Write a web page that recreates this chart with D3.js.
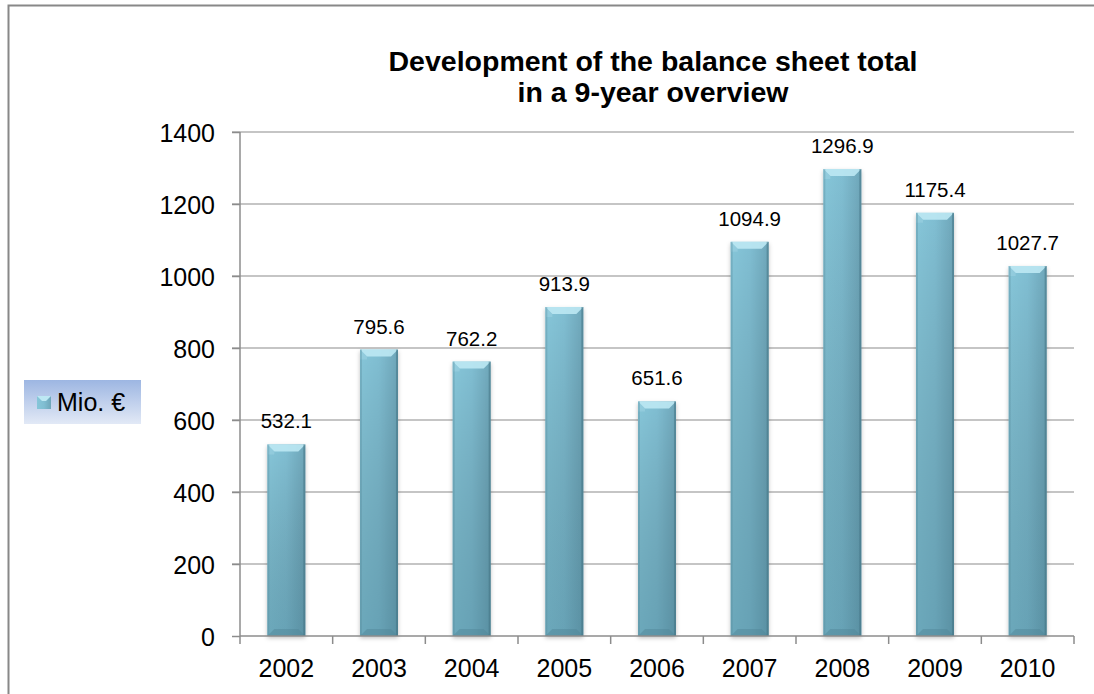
<!DOCTYPE html>
<meta charset="utf-8">
<style>
body { margin: 0; background: #fff; }
text { font-family: "Liberation Sans", Arial, sans-serif; fill: #000; }
.grid line { stroke: #8c8c8c; stroke-width: 1.2px; }
.axis path, .axis line { stroke: #8c8c8c; stroke-width: 1.5px; }
</style>
<body>
<svg width="1094" height="694"></svg>
<script src="https://d3js.org/d3.v7.min.js"></script>
<script>

var years = ["2002","2003","2004","2005","2006","2007","2008","2009","2010"]
var values = [532.1, 795.6, 762.2, 913.9, 651.6, 1094.9, 1296.9, 1175.4, 1027.7]
var yTicks = [0,200,400,600,800,1000,1200,1400]
var titleLines = ["Development of the balance sheet total", "in a 9-year overview"]
var seriesName = "Mio. €"

var svg = d3.select("svg")

var x0 = 240, x1 = 1074, y0 = 636, y1 = 132

// frame
svg.append("path").attr("d", "M8.5,700V5.5H1100")
  .attr("fill", "none").attr("stroke", "#888").attr("stroke-width", 2)

var defs = svg.append("defs")
var g1 = defs.append("linearGradient").attr("id", "barH").attr("x1", 0).attr("x2", 1).attr("y1", 0).attr("y2", 0)
g1.append("stop").attr("offset", 0).attr("stop-color", "#86c6d9")
g1.append("stop").attr("offset", 0.5).attr("stop-color", "#80bed2")
g1.append("stop").attr("offset", 1).attr("stop-color", "#6ea6b9")
var g2 = defs.append("linearGradient").attr("id", "barV").attr("x1", 0).attr("x2", 0).attr("y1", 0).attr("y2", 1)
g2.append("stop").attr("offset", 0).attr("stop-color", "#000").attr("stop-opacity", 0)
g2.append("stop").attr("offset", 1).attr("stop-color", "#1c4f60").attr("stop-opacity", 0.25)
var g3 = defs.append("linearGradient").attr("id", "legBg").attr("x1", 0).attr("x2", 0).attr("y1", 0).attr("y2", 1)
g3.append("stop").attr("offset", 0).attr("stop-color", "#9db6e2")
g3.append("stop").attr("offset", 1).attr("stop-color", "#e2e9f6")
defs.append("filter").attr("id", "shadow").attr("x", "-20%").attr("y", "-5%").attr("width", "140%").attr("height", "110%")
  .append("feDropShadow").attr("dx", 0).attr("dy", 2).attr("stdDeviation", 2)
  .attr("flood-color", "#000").attr("flood-opacity", 0.25)

var x = d3.scaleBand().domain(years).range([x0, x1]).paddingInner(0.59).paddingOuter(0.295)
var y = d3.scaleLinear().domain([0, 1400]).range([y0, y1])

// gridlines
svg.append("g").attr("class", "grid")
  .selectAll("line").data(yTicks.filter(d => d > 0)).join("line")
  .attr("x1", x0 - 8).attr("x2", x1).attr("y1", d => y(d)).attr("y2", d => y(d))

// y axis
var ya = svg.append("g").attr("class", "axis").attr("transform", `translate(${x0},0)`)
  .call(d3.axisLeft(y).tickValues(yTicks).tickFormat(d3.format("d")).tickSize(8).tickSizeOuter(0).tickPadding(17))
ya.selectAll("text").style("font-size", "25px").attr("dy", "0.36em")
ya.select(".domain").attr("d", `M0,${y0}V${y1}`)

// bars
var bars = svg.append("g").selectAll("g").data(values).join("g")
  .attr("transform", (d, i) => `translate(${x(years[i])},${y(d)})`)
var bw = x.bandwidth()
bars.append("rect").attr("width", bw).attr("height", d => y0 - y(d))
  .attr("fill", "url(#barH)").attr("filter", "url(#shadow)")
bars.append("rect").attr("width", bw).attr("height", d => y0 - y(d)).attr("fill", "url(#barV)")
// bevel top
var bv = 7
bars.append("path").attr("d", `M0,0H${bw}L${bw - bv},${bv}H${bv}Z`).attr("fill", "#bde8f3").attr("opacity", 0.9)
bars.append("path").attr("d", `M0,0L${bv},${bv}V${bv + 3}L0,${bv + 3}Z`).attr("fill", "#9fd4e4").attr("opacity", 0.5)
// bevel bottom
bars.append("path").attr("d", d => { var h = y0 - y(d); return `M0,${h}H${bw}L${bw - bv},${h - bv}H${bv}Z` })
  .attr("fill", "#4f8596").attr("opacity", 0.45)
bars.append("rect").attr("width", 2).attr("height", d => y0 - y(d)).attr("fill", "#558a9b").attr("opacity", 0.35)
bars.append("rect").attr("x", bw - 2).attr("width", 2).attr("height", d => y0 - y(d)).attr("fill", "#3f6f80").attr("opacity", 0.5)

// value labels
svg.append("g").selectAll("text").data(values).join("text")
  .attr("x", (d, i) => x(years[i]) + bw / 2).attr("y", d => y(d) - 16)
  .attr("text-anchor", "middle").style("font-size", "20.5px")
  .text(d => d.toFixed(1))

// x axis
var xa = svg.append("g").attr("class", "axis").attr("transform", `translate(0,${y0})`)
  .call(d3.axisBottom(x).tickSize(0).tickPadding(23))
xa.selectAll("text").style("font-size", "25px")
xa.select(".domain").attr("d", `M${x0},0H${x1}`)
xa.append("g").selectAll("line").data(d3.range(years.length + 1)).join("line")
  .attr("x1", i => x0 + i * x.step()).attr("x2", i => x0 + i * x.step())
  .attr("y1", 0).attr("y2", 8).attr("stroke", "#8c8c8c").attr("stroke-width", 1.5)

// title
svg.append("text").attr("text-anchor", "middle").style("font-size", "28.5px").style("font-weight", "bold")
  .selectAll("tspan").data(titleLines).join("tspan")
  .attr("x", 653).attr("y", (d, i) => 71 + i * 31).text(d => d)

// legend
var lg = svg.append("g").attr("transform", "translate(24,380)")
lg.append("rect").attr("width", 117).attr("height", 44).attr("fill", "url(#legBg)")
lg.append("rect").attr("x", 13).attr("y", 16).attr("width", 14).attr("height", 13).attr("fill", "url(#barH)")
lg.append("path").attr("d", "M13,16H27L22,21H18Z").attr("fill", "#bde8f3")
lg.append("text").attr("x", 33).attr("y", 31).style("font-size", "25px").text(seriesName)

</script>
</body>
